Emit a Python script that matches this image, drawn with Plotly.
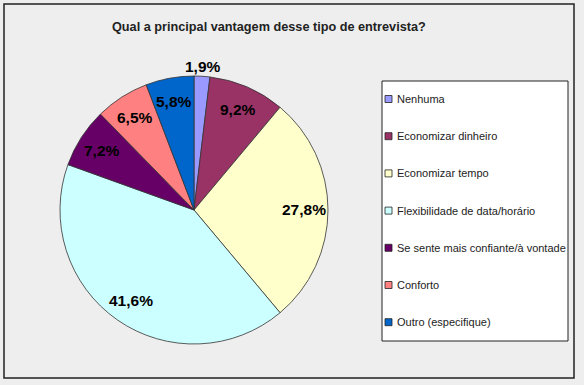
import math
import plotly.graph_objects as go

W, H = 584, 385

title = "Qual a principal vantagem desse tipo de entrevista?"
categories = ["Nenhuma", "Economizar dinheiro", "Economizar tempo",
              "Flexibilidade de data/horário", "Se sente mais confiante/à vontade",
              "Conforto", "Outro (especifique)"]
values = [1.9, 9.2, 27.8, 41.6, 7.2, 6.5, 5.8]
colors = ["#9999FF", "#993366", "#FFFFCC", "#CCFFFF", "#660066", "#FF8080", "#0066CC"]
outside = [True, False, False, False, False, False, False]

cx, cy, r = 194, 210, 134
FONT = "Liberation Sans, Arial, sans-serif"

fig = go.Figure()
fig.add_trace(go.Pie(
    labels=categories, values=values, sort=False, direction="clockwise", rotation=0,
    marker=dict(colors=colors, line=dict(color="#333333", width=0.8)),
    textinfo="none", showlegend=False, hoverinfo="label+percent",
    domain=dict(x=[(cx - r) / W, (cx + r) / W], y=[1 - (cy + r) / H, 1 - (cy - r) / H]),
))

def px(x):
    return x / W

def py(y):
    return 1 - y / H

shapes = [
    dict(type="rect", xref="paper", yref="paper", x0=px(4), x1=px(574), y0=py(378), y1=py(4),
         line=dict(color="#222222", width=1.5), fillcolor="rgba(0,0,0,0)", layer="below"),
    dict(type="rect", xref="paper", yref="paper", x0=px(382), x1=px(568), y0=py(341), y1=py(81),
         line=dict(color="#222222", width=1), fillcolor="white", layer="below"),
]
annotations = [dict(text="<b>" + title + "</b>", x=px(269), y=py(27), xref="paper", yref="paper",
                    showarrow=False, xanchor="center", yanchor="middle",
                    font=dict(family=FONT, size=12.7, color="#222222"))]

# slice value labels placed along each slice's mid-angle
total = sum(values)
cum = 0.0
for v, out in zip(values, outside):
    mid = (cum + v / 2) / total * 2 * math.pi
    cum += v
    dist = r + 10 if out else 0.82 * r
    lx = cx + dist * math.sin(mid)
    ly = cy - dist * math.cos(mid)
    annotations.append(dict(text="<b>" + f"{v:.1f}".replace(".", ",") + "%</b>",
                            x=px(lx), y=py(ly), xref="paper", yref="paper",
                            showarrow=False, xanchor="center", yanchor="middle",
                            font=dict(family=FONT, size=15.5, color="black")))

leg_top, leg_step = 99, 37.2
for i, (c, col) in enumerate(zip(categories, colors)):
    yc = leg_top + i * leg_step
    shapes.append(dict(type="rect", xref="paper", yref="paper", x0=px(385), x1=px(392),
                       y0=py(yc + 3.5), y1=py(yc - 3.5), line=dict(color="#222222", width=0.8),
                       fillcolor=col))
    annotations.append(dict(text=c, x=px(395), y=py(yc), xref="paper", yref="paper",
                            showarrow=False, xanchor="left", yanchor="middle",
                            font=dict(family=FONT, size=11, color="#222222")))

fig.update_layout(
    width=W, height=H, margin=dict(l=0, r=0, t=0, b=0),
    paper_bgcolor="#EEEEEE", plot_bgcolor="#EEEEEE",
    separators=",.", shapes=shapes, annotations=annotations,
)
fig.write_html("out.html", config={"displayModeBar": False},
               post_script="document.body.style.margin='0';document.body.style.background='#EEEEEE';")
